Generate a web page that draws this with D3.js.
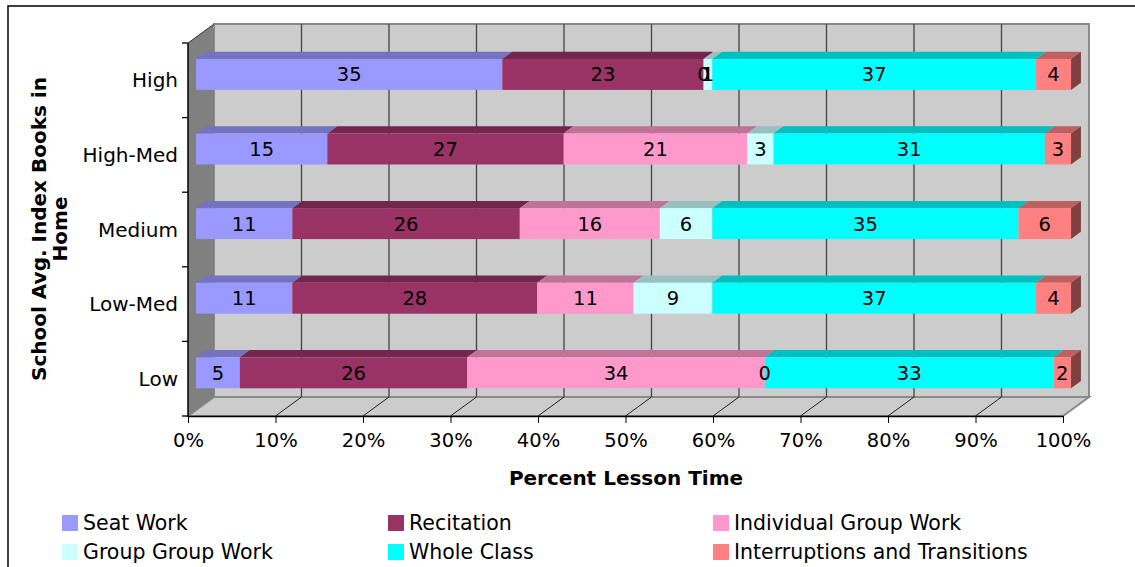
<!DOCTYPE html>
<html>
<head>
<meta charset="utf-8">
<script src="https://cdn.jsdelivr.net/npm/d3@7/dist/d3.min.js"></script>
<style>
  html, body { margin: 0; padding: 0; background: #fff; }
  svg { display: block; font-family: "DejaVu Sans", Verdana, sans-serif; }
</style>
</head>
<body>
<svg id="chart" width="1135" height="567"></svg>
<script>
// ---- Data ----
const categories = ["High", "High-Med", "Medium", "Low-Med", "Low"];
const seriesNames = ["Seat Work", "Recitation", "Individual Group Work", "Group Group Work", "Whole Class", "Interruptions and Transitions"];
const seatWork = [35, 15, 11, 11, 5];
const recitation = [23, 27, 26, 28, 26];
const individualGroupWork = [0, 21, 16, 11, 34];
const groupGroupWork = [1, 3, 6, 9, 0];
const wholeClass = [37, 31, 35, 37, 33];
const interruptions = [4, 3, 6, 4, 2];
const xTicks = [0, 10, 20, 30, 40, 50, 60, 70, 80, 90, 100];
const xTitle = "Percent Lesson Time";
const yTitleLines = ["School Avg. Index Books in", "Home"];

const seriesValues = [seatWork, recitation, individualGroupWork, groupGroupWork, wholeClass, interruptions];
const colors = ["#9999FF", "#993366", "#FF99CC", "#CCFFFF", "#00FFFF", "#FF8080"];

// ---- Layout ----
const svg = d3.select("#chart");
const front = { left: 188, right: 1063, top: 43, bottom: 416 };
const depth = { dx: 26, dy: -19 };
const barF1 = 0.31, barF2 = 0.69;

const x = d3.scaleLinear().domain([0, 100]).range([front.left, front.right]);
const y = d3.scaleBand().domain(categories).range([front.top, front.bottom]).paddingInner(0);
const barH = y.bandwidth() * 0.415;

function shade(c, k) {
  const col = d3.rgb(c);
  return d3.rgb(col.r * k, col.g * k, col.b * k).formatHex();
}

// outer frame
svg.append("path").attr("d", "M8,567 V6 H1135").attr("fill", "none").attr("stroke", "#000").attr("stroke-width", 1.5);

// back wall
const bw = { x0: front.left + depth.dx, x1: front.right + depth.dx, y0: front.top + depth.dy, y1: front.bottom + depth.dy };
svg.append("rect").attr("x", bw.x0).attr("y", bw.y0).attr("width", bw.x1 - bw.x0).attr("height", bw.y1 - bw.y0)
  .attr("fill", "#CCCCCC").attr("stroke", "#8a8a8a").attr("stroke-width", 2);

// floor
svg.append("path")
  .attr("d", `M${front.left},${front.bottom} L${front.right},${front.bottom} L${front.right + depth.dx},${front.bottom + depth.dy} L${front.left + depth.dx},${front.bottom + depth.dy} Z`)
  .attr("fill", "#CCCCCC").attr("stroke", "#8a8a8a").attr("stroke-width", 2);

// gridlines on back wall + floor diagonals
xTicks.forEach(t => {
  if (t > 0 && t < 100) {
    svg.append("line").attr("x1", x(t) + depth.dx).attr("x2", x(t) + depth.dx)
      .attr("y1", bw.y0).attr("y2", bw.y1).attr("stroke", "#444").attr("stroke-width", 1.3);
    svg.append("line").attr("x1", x(t)).attr("y1", front.bottom)
      .attr("x2", x(t) + depth.dx).attr("y2", front.bottom + depth.dy)
      .attr("stroke", "#222").attr("stroke-width", 1);
  }
});

// left side wall
svg.append("path")
  .attr("d", `M${front.left},${front.top} L${front.left + depth.dx},${front.top + depth.dy} L${front.left + depth.dx},${front.bottom + depth.dy} L${front.left},${front.bottom} Z`)
  .attr("fill", "#808080").attr("stroke", "none");
svg.append("line").attr("x1", front.left).attr("y1", front.top).attr("x2", front.left + depth.dx).attr("y2", front.top + depth.dy)
  .attr("stroke", "#333").attr("stroke-width", 1);

// bars
const fdx = barF1 * depth.dx, fdy = barF1 * depth.dy;
const bdx = (barF2 - barF1) * depth.dx, bdy = (barF2 - barF1) * depth.dy;
const barsG = svg.append("g");
categories.forEach((cat, ci) => {
  const yc = y(cat) + y.bandwidth() / 2 + fdy;
  const yt = yc - barH / 2;
  let cum = 0;
  const segs = seriesValues.map((vals, si) => {
    const s = { si, v: vals[ci], x0: x(cum) + fdx, x1: x(cum + vals[ci]) + fdx };
    cum += vals[ci];
    return s;
  });
  segs.forEach(s => {
    barsG.append("path")
      .attr("d", `M${s.x0},${yt} L${s.x1},${yt} L${s.x1 + bdx},${yt + bdy} L${s.x0 + bdx},${yt + bdy} Z`)
      .attr("fill", shade(colors[s.si], 0.75));
    barsG.append("rect").attr("x", s.x0).attr("y", yt).attr("width", Math.max(0, s.x1 - s.x0)).attr("height", barH)
      .attr("fill", colors[s.si]);
  });
  const last = segs[segs.length - 1];
  barsG.append("path")
    .attr("d", `M${last.x1},${yt} L${last.x1 + bdx},${yt + bdy} L${last.x1 + bdx},${yt + barH + bdy} L${last.x1},${yt + barH} Z`)
    .attr("fill", shade(colors[last.si], 0.5));
  segs.forEach(s => {
    barsG.append("text").attr("x", (s.x0 + s.x1) / 2).attr("y", yc + 7)
      .attr("text-anchor", "middle").attr("font-size", 19.5).attr("fill", "#000").text(s.v);
  });
});

// x axis
const xAxis = d3.axisBottom(x).tickValues(xTicks).tickFormat(d => d + "%").tickSize(7).tickSizeOuter(0).tickPadding(10);
const xg = svg.append("g").attr("transform", `translate(0,${front.bottom})`).call(xAxis);
xg.select(".domain").attr("stroke", "#000").attr("stroke-width", 1.5);
xg.selectAll(".tick line").attr("stroke", "#000");
xg.selectAll("text").attr("font-size", 19.5).attr("font-family", "DejaVu Sans").attr("fill", "#000");

// y axis
svg.append("line").attr("x1", front.left).attr("x2", front.left).attr("y1", front.top).attr("y2", front.bottom)
  .attr("stroke", "#000").attr("stroke-width", 1.5);
const boundaries = categories.map(c => y(c)).concat([front.bottom]);
boundaries.forEach(b => {
  svg.append("line").attr("x1", front.left - 6).attr("x2", front.left).attr("y1", b).attr("y2", b).attr("stroke", "#000").attr("stroke-width", 1.3);
});
categories.forEach(c => {
  svg.append("text").attr("x", 178).attr("y", y(c) + y.bandwidth() / 2 + 7)
    .attr("text-anchor", "end").attr("font-size", 20).attr("fill", "#000").text(c);
});

// axis titles
svg.append("text").attr("x", 626).attr("y", 485).attr("text-anchor", "middle")
  .attr("font-size", 20).attr("font-weight", "bold").text(xTitle);
const ytt = svg.append("text").attr("transform", "translate(46,229) rotate(-90)").attr("text-anchor", "middle")
  .attr("font-size", 20).attr("font-weight", "bold");
yTitleLines.forEach((l, i) => {
  ytt.append("tspan").attr("x", 0).attr("y", i * 21).text(l);
});

// legend
const legCols = [62, 388, 713];
const legRows = [515, 544];
seriesNames.forEach((n, i) => {
  const lx = legCols[i % 3], ly = legRows[Math.floor(i / 3)];
  svg.append("rect").attr("x", lx).attr("y", ly).attr("width", 16).attr("height", 16).attr("fill", colors[i]);
  svg.append("text").attr("x", lx + 21).attr("y", ly + 15).attr("font-size", 20.5).attr("fill", "#000").text(n);
});
</script>
</body>
</html>
